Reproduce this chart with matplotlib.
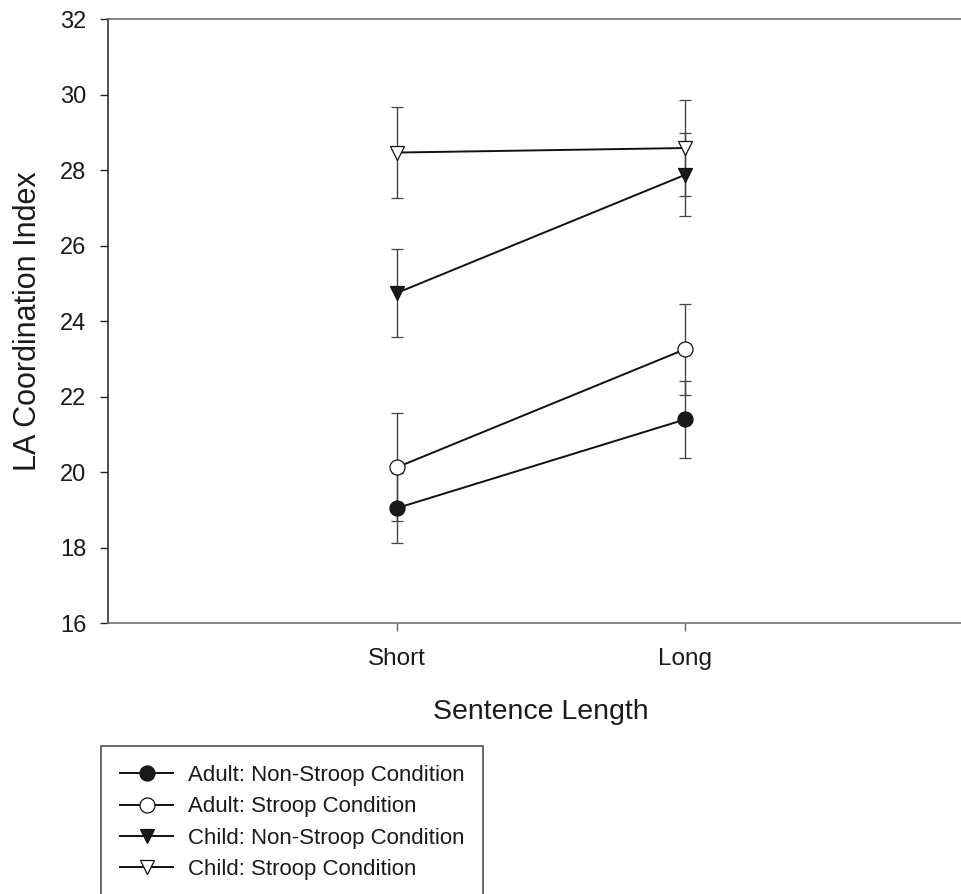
import matplotlib
matplotlib.use("Agg")
import matplotlib.pyplot as plt

plt.rcParams["font.family"] = ["Liberation Sans", "DejaVu Sans"]

# sentence length conditions on the x axis
lengths = ["Short", "Long"]
x_pos = [1, 2]

# LA coordination index means and error bars
adult_nonstroop = [19.05, 21.40]
adult_nonstroop_err = [0.93, 1.03]
adult_stroop = [20.13, 23.26]
adult_stroop_err = [1.43, 1.20]
child_nonstroop = [24.75, 27.88]
child_nonstroop_err = [1.17, 1.10]
child_stroop = [28.47, 28.59]
child_stroop_err = [1.21, 1.27]

labels = [
    "Adult: Non-Stroop Condition",
    "Adult: Stroop Condition",
    "Child: Non-Stroop Condition",
    "Child: Stroop Condition",
]

W, H = 962, 894
fig = plt.figure(figsize=(W / 100, H / 100), dpi=100)
ax = fig.add_axes([108.4 / W, 1 - 623.3 / H, 865 / W, 604 / H])

series = [
    (adult_nonstroop, adult_nonstroop_err, "o", "#1a1a1a", 15),
    (adult_stroop, adult_stroop_err, "o", "white", 15),
    (child_nonstroop, child_nonstroop_err, "v", "#1a1a1a", 14.5),
    (child_stroop, child_stroop_err, "v", "white", 14.5),
]

handles = []
for vals, errs, mk, face, ms in series:
    cont = ax.errorbar(
        x_pos, vals, yerr=errs,
        color="#111111", lw=1.4,
        marker=mk, markersize=ms * 0.72, markerfacecolor=face,
        markeredgecolor="#111111", markeredgewidth=0.9,
        ecolor="#444444", elinewidth=1.0, capsize=4.6, capthick=1.0,
        zorder=3,
    )
    handles.append(cont[0])

ax.set_xlim(0, 3)
ax.set_ylim(16, 32)
ax.set_xticks(x_pos)
ax.set_xticklabels(lengths)
ax.set_yticks(range(16, 33, 2))

ax.spines["left"].set_color("#222222")
ax.spines["top"].set_color("#666666")
ax.spines["bottom"].set_color("#666666")
ax.spines["right"].set_visible(False)
for s in ax.spines.values():
    s.set_linewidth(1.1)

ax.tick_params(axis="y", direction="out", length=5.8, width=1, color="#222222",
               labelsize=17, pad=10, labelcolor="#1a1a1a")
ax.tick_params(axis="x", direction="out", length=6, width=1, color="#666666",
               labelsize=17.5, pad=12, labelcolor="#1a1a1a")

ax.set_xlabel("Sentence Length", fontsize=20.5, color="#1a1a1a", labelpad=21)
ax.set_ylabel("LA Coordination Index", fontsize=22, color="#1a1a1a", labelpad=12)

leg = fig.legend(
    handles, labels,
    loc="upper left", bbox_to_anchor=(101 / W, 1 - 746 / H),
    fontsize=16, frameon=True, fancybox=False, shadow=False,
    edgecolor="#111111", borderpad=0.85, labelspacing=0.47,
    handlelength=2.4, handletextpad=0.66, borderaxespad=0,
)
leg.get_frame().set_linewidth(1.1)
for t in leg.get_texts():
    t.set_color("#1a1a1a")

fig.savefig("out.png", dpi=100, facecolor="white")
